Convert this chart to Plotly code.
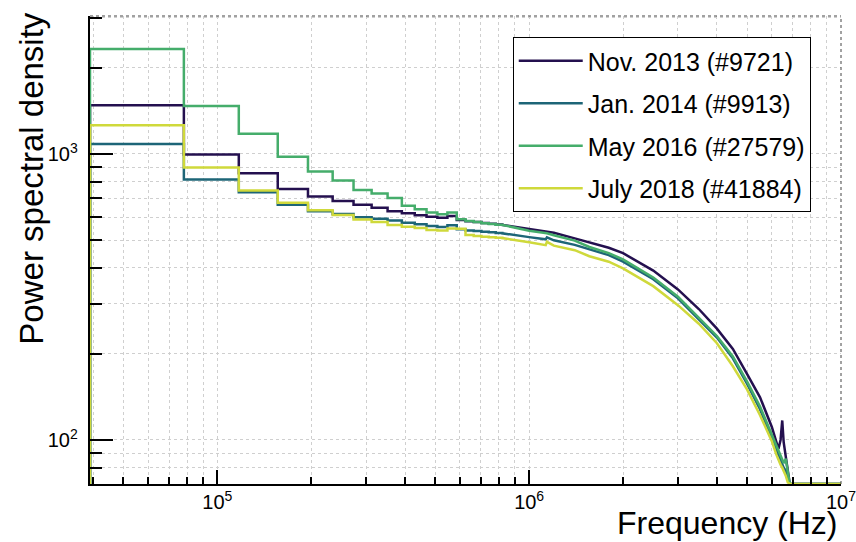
import numpy as np
import plotly.graph_objects as go

# ---------------- data ----------------
BIN_WIDTH_HZ = 39062.5
step_bins = list(range(1, 21))          # bin k spans [k, k+1] * BIN_WIDTH_HZ

series_names = ["Nov. 2013 (#9721)", "Jan. 2014 (#9913)", "May 2016 (#27579)", "July 2018 (#41884)"]
series_colors = ["#24104f", "#1d6577", "#45ad6b", "#cfd93b"]

# low-frequency histogram bins (visible steps)
nov2013_steps = [1480, 995, 856, 755, 710, 685, 664, 648, 631, 620, 611, 603, 599, 607, 588, 582, 578, 574, 570, 567]
jan2014_steps = [1084, 815, 735, 665, 630, 617, 601, 594, 585, 575, 568, 560, 555, 563, 546, 540, 538, 535, 532, 529]
may2016_steps = [2330, 1472, 1178, 978, 868, 808, 749, 727, 701, 659, 641, 624, 616, 624, 591, 583, 578, 573, 569, 566]
jul2018_steps = [1260, 896, 745, 675, 636, 612, 590, 578, 565, 557, 551, 542, 540, 549, 548, 521, 517, 514, 511, 509]

# high-frequency part (bins too narrow to show steps), read at these frequencies
tail_freq_hz = [0.8203125e6, 1.0e6, 1.13e6, 1.14e6, 1.2e6, 1.4e6, 1.56e6, 1.8e6, 2.0e6, 2.5e6,
                3.0e6, 3.5e6, 4.0e6, 4.5e6, 5.0e6, 5.5e6, 6.0e6, 6.2e6, 6.3e6, 6.4e6,
                6.48e6, 6.55e6, 6.65e6, 6.75e6, 6.85e6, 6.9e6, 1.0e7]
nov2013_tail = [565, 547, 537, 536, 530, 507, 491, 470, 450, 391, 336, 287, 245, 208, 170, 141, 111, 99, 93, 100,
                117, 98, 88, 78, 68, 0, 0]
jan2014_tail = [528, 512, 503, 511, 499, 481, 463, 443, 420, 365, 313, 265, 228, 193, 157, 128, 101, 93, 88, 85,
                82, 80, 78, 74, 66, 0, 0]
may2016_tail = [565, 539, 528, 528, 520, 498, 473, 450, 428, 370, 317, 268, 231, 196, 160, 131, 104, 95, 91, 88,
                85, 83, 86, 76, 68, 0, 0]
jul2018_tail = [508, 491, 480, 493, 478, 461, 439, 420, 398, 345, 296, 255, 218, 181, 150, 122, 99, 89, 85, 82,
                80, 78, 75, 71, 0, 0, 0]

steps_all = [nov2013_steps, jan2014_steps, may2016_steps, jul2018_steps]
tails_all = [nov2013_tail, jan2014_tail, may2016_tail, jul2018_tail]

X_RANGE_LOG = [np.log10(BIN_WIDTH_HZ), 7.0]
Y_RANGE_LOG = [1.846, 3.4825]
Y_FLOOR = 10 ** Y_RANGE_LOG[0]   # ROOT draws empty bins on the frame bottom

FONT = "Liberation Sans, Arial, Helvetica, sans-serif"


def histogram_outline(bin_lo, values):
    """ROOT-style histogram outline from bin edges and contents."""
    edges = [k * BIN_WIDTH_HZ for k in bin_lo] + [(bin_lo[-1] + 1) * BIN_WIDTH_HZ]
    xs, ys = [edges[0]], [0.0]
    for i, v in enumerate(values):
        xs += [edges[i], edges[i + 1]]
        ys += [v, v]
    return xs, ys


fig = go.Figure()
for name, color, steps, tail in zip(series_names, series_colors, steps_all, tails_all):
    hx, hy = histogram_outline(step_bins, steps)
    xs = hx + tail_freq_hz
    ys = np.maximum(np.array(hy + tail, dtype=float), Y_FLOOR)
    fig.add_trace(go.Scatter(x=xs, y=ys, mode="lines", name=name, legendgroup=name,
                             line=dict(color=color, width=2.5)))

grid_col = "#cfcfcf"
common_axis = dict(type="log", showline=True, linecolor="black", linewidth=2, mirror=False,
                   ticks="inside", tickcolor="black", tickwidth=1.5, dtick=1, automargin=False,
                   exponentformat="power", showgrid=True, gridcolor=grid_col, griddash="dot",
                   gridwidth=1, zeroline=False,
                   tickfont=dict(family=FONT, size=16, color="black"))

fig.update_xaxes(**common_axis, range=X_RANGE_LOG, ticklen=14, ticklabeloverflow="allow",
                 minor=dict(dtick="D1", ticks="inside", ticklen=7, tickwidth=1.5, tickcolor="black",
                            showgrid=True, gridcolor=grid_col, griddash="dot", gridwidth=1))
fig.update_yaxes(**common_axis, range=Y_RANGE_LOG, ticklen=23, ticklabelstandoff=7,
                 minor=dict(dtick="D1", ticks="inside", ticklen=12, tickwidth=1.5, tickcolor="black",
                            showgrid=True, gridcolor=grid_col, griddash="dot", gridwidth=1))

fig.update_layout(
    width=856, height=542,
    margin=dict(l=90, r=15, t=16, b=58, autoexpand=False),
    paper_bgcolor="white", plot_bgcolor="white",
    font=dict(family=FONT, color="black"),
    legend=dict(x=0.5629, y=0.955, xanchor="left", yanchor="top",
                bgcolor="white", bordercolor="black", borderwidth=1,
                font=dict(family=FONT, size=25, color="black"),
                itemwidth=64, tracegroupgap=7),
    shapes=[
        dict(type="line", xref="paper", yref="paper", x0=0, x1=1, y0=1, y1=1,
             line=dict(color="#444", width=1, dash="dot")),
        dict(type="line", xref="paper", yref="paper", x0=1, x1=1, y0=0, y1=1,
             line=dict(color="#444", width=1, dash="dot")),
    ],
    annotations=[
        dict(text="Power spectral density", xref="paper", yref="paper", x=-0.0779, y=1.0125,
             xanchor="center", yanchor="top", textangle=-90, showarrow=False,
             font=dict(family=FONT, size=33, color="black")),
        dict(text="Frequency (Hz)", xref="paper", yref="paper", x=0.999, y=-0.083,
             xanchor="right", yanchor="middle", showarrow=False,
             font=dict(family=FONT, size=32, color="black")),
    ],
)

# the figure fills the whole window: drop the page's default body margin
fig.write_html("out.html", config={"displayModeBar": False},
               post_script="document.body.style.margin='0px';document.body.style.overflow='hidden';")
